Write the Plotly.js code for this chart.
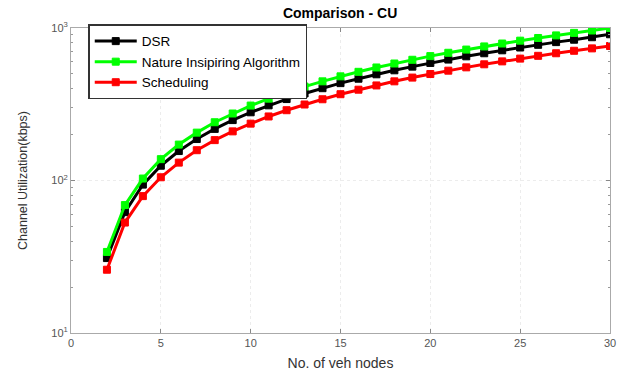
<!DOCTYPE html>
<html>
<head>
<meta charset="utf-8">
<script src="https://cdn.plot.ly/plotly-3.0.1.min.js"></script>
<style>html,body{margin:0;padding:0;background:#fff;}#chart{width:624px;height:371px;}</style>
</head>
<body>
<div id="chart"></div>
<script>
const nodes = [2,3,4,5,6,7,8,9,10,11,12,13,14,15,16,17,18,19,20,21,22,23,24,25,26,27,28,29,30];
const dsr = [31,62,94,125,156,187,218,249,280,311,342,372,403,435,465,497,528,558,590,621,652,683,714,745,776,808,838,870,910];
const nia = [34,69,103,138,172,206,241,275,310,344,378,413,447,482,516,551,585,619,654,688,722,757,791,826,860,894,929,963,1000];
const sched = [26,53,79,105,131,158,184,210,236,263,289,315,341,368,394,420,447,473,499,525,552,578,604,630,657,683,709,735,762];
const seriesNames = ['DSR','Nature Insipiring Algorithm','Scheduling'];
const xTicks = [0,5,10,15,20,25,30];
const yTicks = [10,100,1000];
const yTickText = ['10<sup>1</sup>','10<sup>2</sup>','10<sup>3</sup>'];

function tr(y, name, color){
  return {x: nodes, y: y, name: name, type:'scatter', mode:'lines+markers',
    line:{color:color, width:3},
    marker:{color:color, symbol:'square', size:7, line:{color:color, width:1}}};
}
const data = [tr(dsr, seriesNames[0], '#000000'), tr(nia, seriesNames[1], '#00ff00'), tr(sched, seriesNames[2], '#ff0000')];

const minorVals = [];
for (let d of [10,100]) for (let k=2;k<=9;k++) minorVals.push(d*k);

const axisCommon = {showline:true, linecolor:'#aaa', linewidth:1, mirror:'ticks', ticks:'inside', ticklen:4, tickcolor:'#888',
  showgrid:true, gridcolor:'#ececec', griddash:'dot', zeroline:false,
  tickfont:{family:'Liberation Sans, Arial, sans-serif', size:11, color:'#555'}};

const layout = {
  width:624, height:371,
  margin:{l:71, r:14, t:28, b:38},
  paper_bgcolor:'#fff', plot_bgcolor:'#fff',
  title:{text:'<b>Comparison - CU</b>', x:0.545, xanchor:'center', y:0.978, yanchor:'top',
    font:{family:'Liberation Sans, Arial, sans-serif', size:14, color:'#000'}},
  xaxis:Object.assign({}, axisCommon, {range:[0,30], tickvals:xTicks,
    title:{text:'No. of veh nodes', standoff:10, font:{family:'Liberation Sans, Arial, sans-serif', size:14, color:'#333'}}}),
  yaxis:Object.assign({}, axisCommon, {type:'log', range:[1,3], tickvals:yTicks, ticktext:yTickText,
    minor:{tickvals:minorVals, ticks:'inside', ticklen:2, tickcolor:'#999', showgrid:false},
    title:{text:'Channel Utilization(kbps)', standoff:20, font:{family:'Liberation Sans, Arial, sans-serif', size:12.5, color:'#333'}}}),
  legend:{x:0.032, y:1.012, xanchor:'left', yanchor:'top', bgcolor:'#fff', bordercolor:'#333', borderwidth:1.5,
    itemwidth:42, font:{family:'Liberation Sans, Arial, sans-serif', size:13.5, color:'#000'}, tracegroupgap:0},
  showlegend:true
};
Plotly.newPlot('chart', data, layout, {displayModeBar:false, staticPlot:true});
</script>
</body>
</html>
